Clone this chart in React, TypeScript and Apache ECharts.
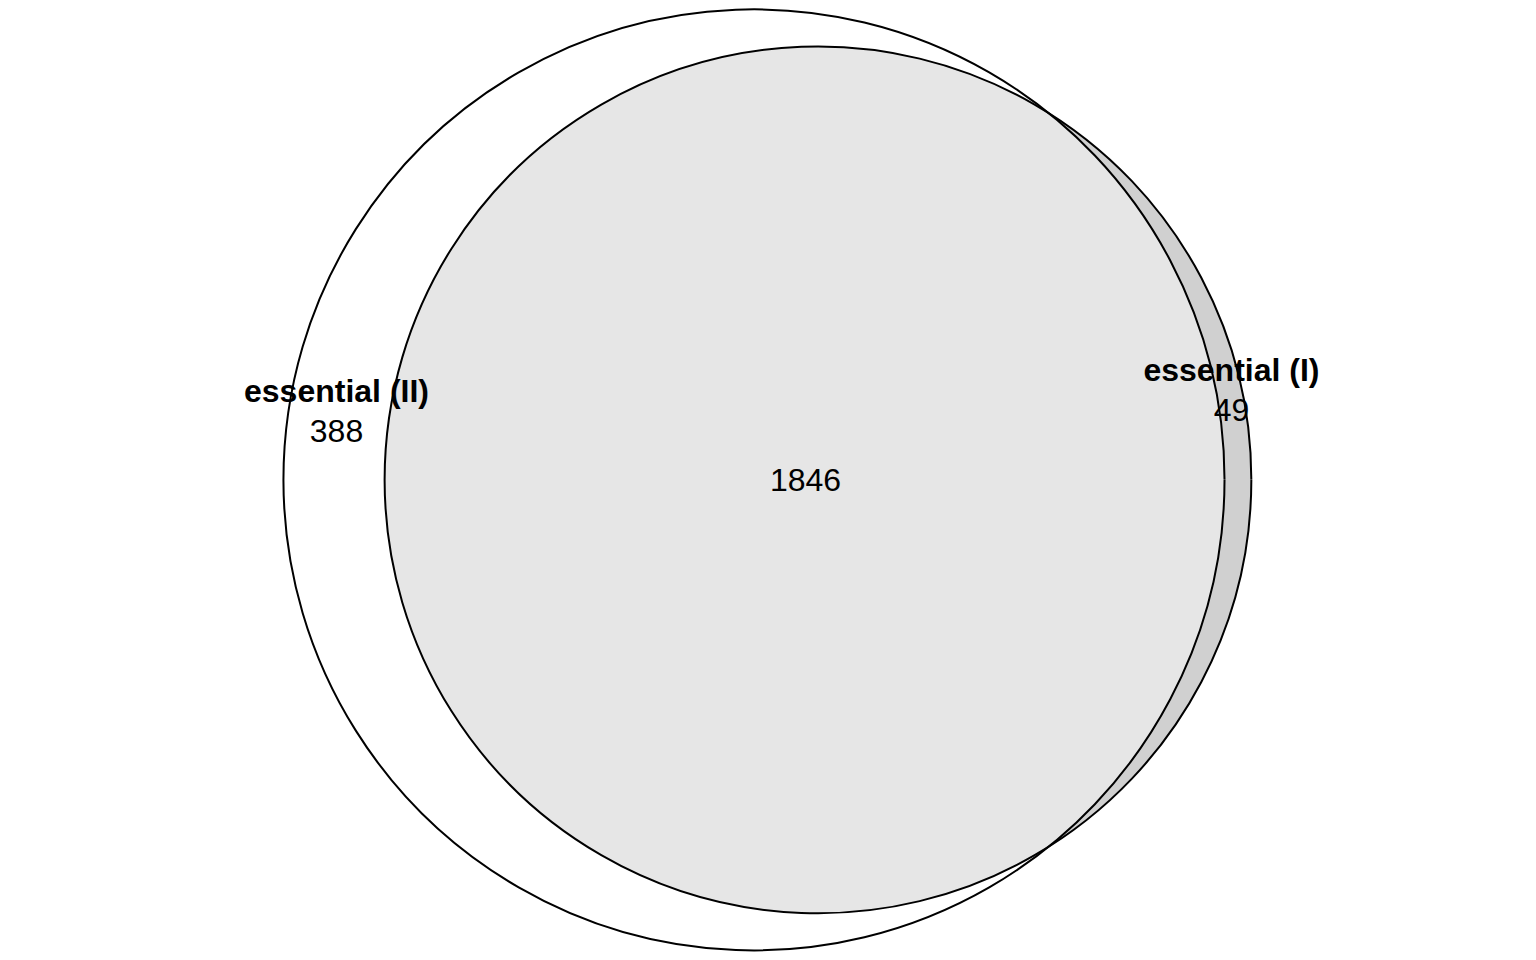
import React, { useEffect, useRef } from "react";
import * as echarts from "echarts";

// Sets: index 0 = essential (II), index 1 = essential (I)
const setNames = ["essential (II)", "essential (I)"];
const onlyCounts = [388, 49];
const bothCount = 1846;

// Fitted Euler layout (data units, area-proportional circles)
const centerX = [0, 3.627];
const centerY = [0, 0];
const radius = [26.667, 24.56];

// Label anchors (data units)
const labelX = [-23.66, 27.06];
const labelY = [3.92, 5.12];
const bothLabelX = 2.92;
const bothLabelY = 0;

const FONT = '"Liberation Sans", Arial, Helvetica, sans-serif';

export default function App() {
  const ref = useRef<HTMLDivElement>(null);

  useEffect(() => {
    if (!ref.current) return;
    const chart = echarts.init(ref.current, undefined, { renderer: "svg" });

    const circleData = centerX.map((x, i) => [x, centerY[i], radius[i]]);
    const fills = ["#ffffff", "#d0d0d0"];

    const pix = (api: any, i: number) => {
      const c = api.coord([centerX[i], centerY[i]]);
      const r = api.size([radius[i], 0])[0];
      return { x: c[0], y: c[1], r };
    };

    const option: any = {
      animation: false,
      backgroundColor: "#ffffff",
      grid: { left: 0, right: 0, top: 0, bottom: 0 },
      xAxis: { type: "value", min: -42.73, max: 44.32, show: false },
      yAxis: { type: "value", min: -27.21, max: 27.2, show: false },
      series: [
        {
          type: "custom",
          name: "sets",
          data: circleData,
          encode: { x: 0, y: 1 },
          renderItem: (params: any, api: any) => {
            const i = params.dataIndex;
            const c = api.coord([api.value(0), api.value(1)]);
            const r = api.size([api.value(2), 0])[0];
            return {
              type: "circle",
              shape: { cx: c[0], cy: c[1], r },
              style: { fill: fills[i], stroke: "none" },
            };
          },
        },
        {
          type: "custom",
          name: "intersection",
          data: [[bothLabelX, bothLabelY]],
          encode: { x: 0, y: 1 },
          renderItem: (params: any, api: any) => {
            const A = pix(api, 0);
            const B = pix(api, 1);
            const dx = B.x - A.x;
            const dy = B.y - A.y;
            const d = Math.sqrt(dx * dx + dy * dy);
            const a = (d * d + A.r * A.r - B.r * B.r) / (2 * d);
            const h = Math.sqrt(Math.max(A.r * A.r - a * a, 0));
            const ux = dx / d;
            const uy = dy / d;
            const px = A.x + a * ux;
            const py = A.y + a * uy;
            const topX = px + h * uy;
            const topY = py - h * ux;
            const botX = px - h * uy;
            const botY = py + h * ux;
            const largeB = a > d ? 1 : 0;
            const largeA = a < 0 ? 1 : 0;
            const dPath =
              `M ${topX} ${topY} ` +
              `A ${B.r} ${B.r} 0 ${largeB} 0 ${botX} ${botY} ` +
              `A ${A.r} ${A.r} 0 ${largeA} 0 ${topX} ${topY} Z`;
            return {
              type: "path",
              shape: { pathData: dPath },
              style: { fill: "#e6e6e6", stroke: "none" },
            };
          },
        },
        {
          type: "custom",
          name: "outlines",
          data: circleData,
          encode: { x: 0, y: 1 },
          renderItem: (params: any, api: any) => {
            const c = api.coord([api.value(0), api.value(1)]);
            const r = api.size([api.value(2), 0])[0];
            return {
              type: "circle",
              shape: { cx: c[0], cy: c[1], r },
              style: { fill: "none", stroke: "#000000", lineWidth: 2 },
            };
          },
        },
        {
          type: "custom",
          name: "labels",
          data: labelX.map((x, i) => [x, labelY[i]]),
          encode: { x: 0, y: 1 },
          renderItem: (params: any, api: any) => {
            const i = params.dataIndex;
            const c = api.coord([api.value(0), api.value(1)]);
            return {
              type: "group",
              children: [
                {
                  type: "text",
                  x: c[0],
                  y: c[1] - 20,
                  style: {
                    text: setNames[i],
                    fill: "#000000",
                    font: `bold 32px ${FONT}`,
                    align: "center",
                    verticalAlign: "middle",
                  },
                },
                {
                  type: "text",
                  x: c[0],
                  y: c[1] + 20,
                  style: {
                    text: String(onlyCounts[i]),
                    fill: "#000000",
                    font: `32px ${FONT}`,
                    align: "center",
                    verticalAlign: "middle",
                  },
                },
              ],
            };
          },
        },
        {
          type: "custom",
          name: "bothLabel",
          data: [[bothLabelX, bothLabelY]],
          encode: { x: 0, y: 1 },
          renderItem: (params: any, api: any) => {
            const c = api.coord([api.value(0), api.value(1)]);
            return {
              type: "text",
              x: c[0],
              y: c[1],
              style: {
                text: String(bothCount),
                fill: "#000000",
                font: `32px ${FONT}`,
                align: "center",
                verticalAlign: "middle",
              },
            };
          },
        },
      ],
    };

    chart.setOption(option);
    return () => chart.dispose();
  }, []);

  return (
    <div
      ref={ref}
      style={{ position: "absolute", left: 0, top: 0, width: 1536, height: 960 }}
    />
  );
}
